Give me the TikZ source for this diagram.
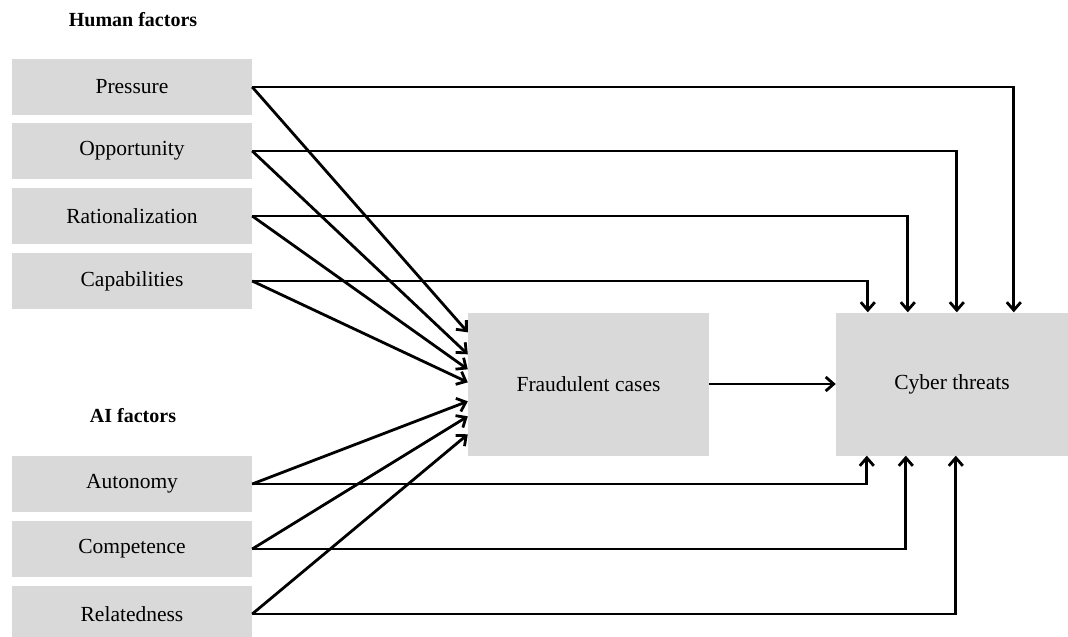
\documentclass[tikz,border=0pt]{standalone}
\usepackage{fontspec}
\setmainfont{Liberation Serif}
\usetikzlibrary{arrows.meta}
\begin{document}
\begin{tikzpicture}[x=1pt,y=-1pt,
  factor/.style={fill=boxgray, inner sep=0pt, minimum width=240pt, minimum height=56pt,
    font=\fontsize{21.5}{24}\selectfont},
  bigbox/.style={fill=boxgray, inner sep=0pt, font=\fontsize{21.5}{24}\selectfont},
  heading/.style={font=\fontsize{20}{22}\selectfont\bfseries},
  arr/.style={line width=2.8pt, -{Straight Barb[length=8pt,width=14pt,line width=2.8pt]}}
]
\definecolor{boxgray}{HTML}{D9D9D9}
\useasboundingbox (0,0) rectangle (1068,637);

% group headings
\node[heading] (hhum) at (133,20) {Human factors};
\node[heading] (hai) at (133,416) {AI factors};

% human factors
\node[factor] (pres) at (132,87) {Pressure};
\node[factor] (opp) at (132,151) {Opportunity};
\node[factor] (rat) at (132,216) {Rationalization};
\node[factor] (cap) at (132,281) {Capabilities};

% AI factors
\node[factor] (aut) at (132,484) {Autonomy};
\node[factor] (comp) at (132,549) {Competence};
\node[factor] (rel) at (132,614) {Relatedness};

% outcomes
\node[bigbox, minimum width=241pt, minimum height=143pt] (fraud) at (588.5,384) {Fraudulent cases};
\node[bigbox, minimum width=232pt, minimum height=143pt] (cyber) at (952,384) {Cyber threats};

% factors -> fraudulent cases
\draw[arr] (pres.east) -- ([yshift=-20pt]fraud.north west);
\draw[arr] (opp.east) -- ([yshift=-42pt]fraud.north west);
\draw[arr] (rat.east) -- ([yshift=-57pt]fraud.north west);
\draw[arr] (cap.east) -- ([yshift=-70pt]fraud.north west);
\draw[arr] (aut.east) -- ([yshift=-89pt]fraud.north west);
\draw[arr] (comp.east) -- ([yshift=-104pt]fraud.north west);
\draw[arr] (rel.east) -- ([yshift=-122pt]fraud.north west);

% fraudulent cases -> cyber threats
\draw[arr] (fraud.east) -- (cyber.west);

% human factors -> cyber threats (from above)
\draw[arr] (pres.east) -| ([xshift=178pt]cyber.north west);
\draw[arr] (opp.east) -| ([xshift=121pt]cyber.north west);
\draw[arr] (rat.east) -| ([xshift=72pt]cyber.north west);
\draw[arr] (cap.east) -| ([xshift=32pt]cyber.north west);

% AI factors -> cyber threats (from below)
\draw[arr] (aut.east) -| ([xshift=31pt]cyber.south west);
\draw[arr] (comp.east) -| ([xshift=70pt]cyber.south west);
\draw[arr] (rel.east) -| ([xshift=120pt]cyber.south west);
\end{tikzpicture}
\end{document}
